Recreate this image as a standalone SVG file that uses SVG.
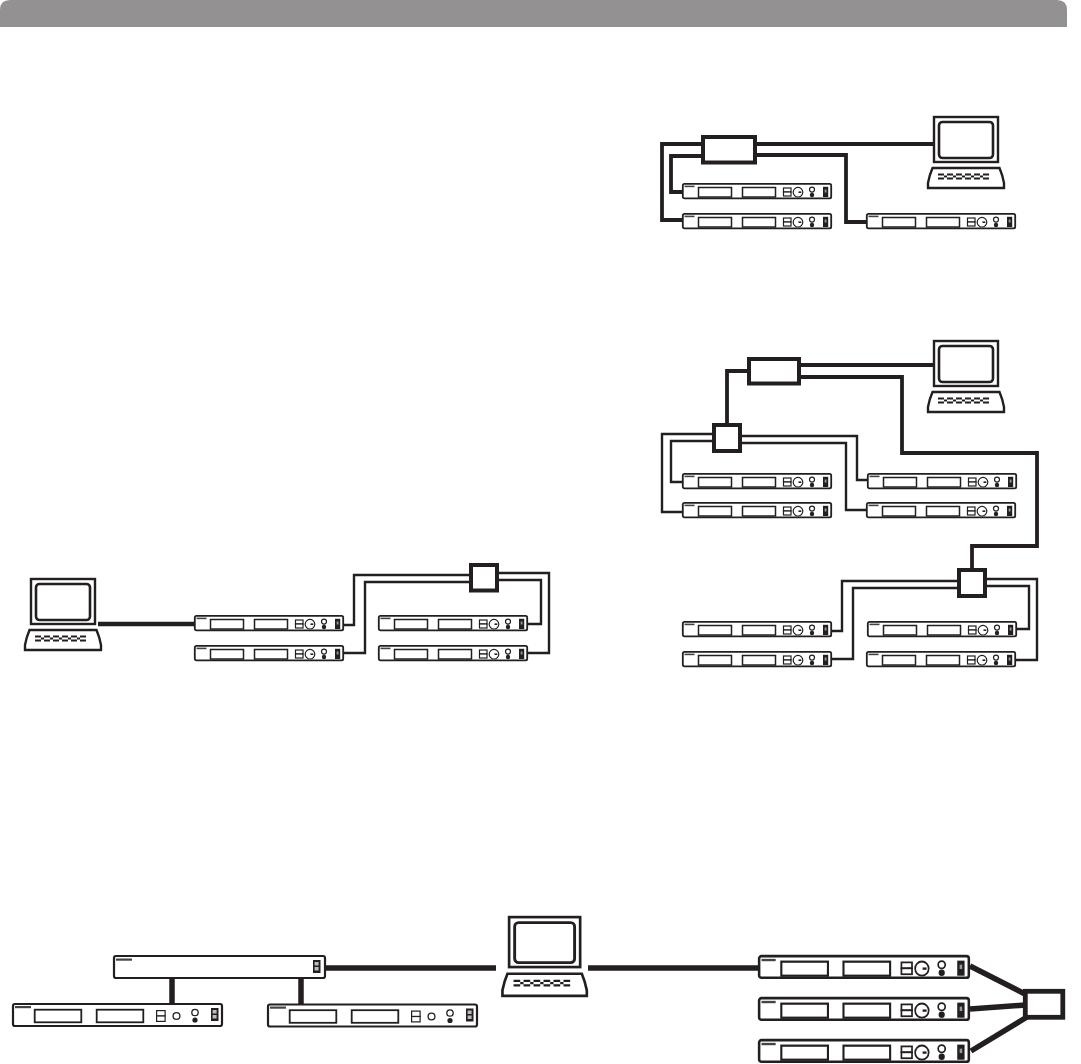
<svg xmlns="http://www.w3.org/2000/svg" width="1081" height="1064" viewBox="0 0 1081 1064">
<style>
.k{fill:none;stroke:#231f20;stroke-linejoin:miter}
.w{fill:#fff;stroke:#231f20}
.d{fill:#231f20}
.thick{fill:none;stroke:#231f20;stroke-width:3.800}
.thin{fill:none;stroke:#231f20;stroke-width:2.400}
.heavy{fill:none;stroke:#231f20;stroke-width:5.500}
.box{fill:#fff;stroke:#231f20;stroke-width:4}
</style>
<defs>
<g id="device">
<rect class="w" x=".8" y=".8" width="148.400" height="14.600" rx="1.600" stroke-width="1.800"/>
<rect x="2.500" y="2.600" width="10" height="1.600" fill="#444"/>
<rect class="w" x="16.500" y="4.500" width="33" height="9.500" stroke-width="1.500"/>
<rect class="w" x="60.500" y="4.500" width="33" height="9.500" stroke-width="1.500"/>
<rect class="w" x="101.500" y="5" width="7.500" height="4" stroke-width="1.200"/>
<rect class="w" x="101.500" y="9" width="7.500" height="4" stroke-width="1.200"/>
<circle class="w" cx="116" cy="9.200" r="4.800" stroke-width="1.200"/>
<path class="k" d="M116.500 9.200h2.800" stroke-width="1.600"/>
<circle class="w" cx="130" cy="6.600" r="2.500" stroke-width="1.200"/>
<circle class="d" cx="130" cy="12" r="2.200"/>
<rect class="d" x="141" y="3.800" width="5.200" height="10.200"/>
<rect x="142.700" y="6.500" width="1.800" height="3" fill="#999"/>
</g>
<g id="device-b">
<rect class="w" x="1" y="1" width="209" height="22" rx="2" stroke-width="2.200"/>
<rect x="3" y="3" width="16" height="2.200" fill="#444"/>
<rect class="w" x="22.700" y="6.700" width="46.600" height="12.600" stroke-width="1.800"/>
<rect class="w" x="84.700" y="6.700" width="46.600" height="12.600" stroke-width="1.800"/>
<rect class="w" x="144.600" y="7.600" width="8.500" height="5.400" stroke-width="1.200"/>
<rect class="w" x="144.600" y="13" width="8.500" height="5.400" stroke-width="1.200"/>
<circle class="w" cx="164.500" cy="13" r="3.400" stroke-width="1.300"/>
<circle class="w" cx="183" cy="9.500" r="3.200" stroke-width="1.300"/>
<circle class="d" cx="183" cy="17" r="2.600"/>
<rect class="d" x="199" y="5" width="7.500" height="13"/>
<rect x="200.600" y="7" width="4" height="3.500" fill="#bbb"/>
<rect x="200.600" y="12" width="4" height="3.500" fill="#bbb"/>
</g>
<g id="computer">
<rect class="w" x="1" y="1" width="64" height="45" stroke-width="2.400"/>
<rect class="w" x="6" y="6" width="54" height="36" rx="3.500" stroke-width="2.600"/>
<path class="w" d="M-5 72V67Q-3.500 59-.5 52H66.500Q69.500 59 71 67V72Z" stroke-width="2.400"/>
<path class="k" d="M5 58.500h6m3 0h6m3 0h6m3 0h6m3 0h6m3 0h6M5 62.500h6m3 0h6m3 0h6m3 0h6m3 0h6m3 0h6" stroke-width="2"/>
<path class="k" d="M11 60.500h3m6 0h3m6 0h3m6 0h3m6 0h3" stroke-width="2"/>
</g>
</defs>
<path id="header" d="M0 27V10Q0 0 10 0H1057Q1067 0 1067 10V27Z" fill="#939191"/>
<g id="connectors">
<path class="thick" d="M757 144H933M757 155H846V222H866M701 144H662V220H682M701 156H671V192H682"/>
<path class="thick" d="M801 365H933M801 377H902V453H1037V546H972V568M747 371H727V423"/>
<path class="thin" d="M712 434H662V512H682M712 441H671V482H682M742 436H857V480H867M742 443H846V510H866"/>
<path class="thin" d="M957 581H842V631H832M957 588H853V659H832M987 579H1037V660H1016M987 586H1029V629H1017"/>
<path class="k" d="M98 624H194" stroke-width="4.500"/>
<path class="thin" d="M469 575H354V625H344M469 582H365V653H344M499 573H549V653H528M499 580H541V624H528"/>
<path class="heavy" d="M172 978V1003M301 978V1004M326 968H496M588 968H758M970 966L1025 994M970 1009L1025 1005M971 1051L1027 1017"/>
</g>
<g id="hub-a"><rect class="box" x="703" y="137" width="52" height="25.500"/></g>
<g id="hub-b"><rect class="box" x="749" y="359" width="50" height="24.500"/></g>
<g id="hub-c"><rect class="box" x="714" y="425" width="26" height="26"/></g>
<g id="hub-d"><rect class="box" x="959" y="570" width="26" height="26"/></g>
<g id="hub-e"><rect class="box" x="471" y="565" width="26" height="25.500"/></g>
<g id="hub-f"><rect class="w" x="1025.300" y="991.300" width="37.500" height="26" stroke-width="4.800"/></g>
<g id="pc-a"><use href="#computer" x="933" y="116"/></g>
<g id="pc-b"><use href="#computer" x="933" y="340"/></g>
<g id="pc-c"><use href="#computer" x="30" y="578"/></g>
<g id="pc-d"><use href="#computer" transform="translate(508 916) scale(1.110)"/></g>
<g id="dev-a1"><use href="#device" x="682" y="183"/></g>
<g id="dev-a2"><use href="#device" x="682" y="213"/></g>
<g id="dev-a3"><use href="#device" x="866" y="213"/></g>
<g id="dev-b1"><use href="#device" x="682" y="473"/></g>
<g id="dev-b2"><use href="#device" x="682" y="502"/></g>
<g id="dev-b3"><use href="#device" x="867" y="473"/></g>
<g id="dev-b4"><use href="#device" x="866" y="502"/></g>
<g id="dev-c1"><use href="#device" x="682" y="621"/></g>
<g id="dev-c2"><use href="#device" x="682" y="651"/></g>
<g id="dev-c3"><use href="#device" x="867" y="621"/></g>
<g id="dev-c4"><use href="#device" x="866" y="651"/></g>
<g id="dev-d1"><use href="#device" x="194" y="615"/></g>
<g id="dev-d2"><use href="#device" x="194" y="645"/></g>
<g id="dev-d3"><use href="#device" x="378" y="615"/></g>
<g id="dev-d4"><use href="#device" x="378" y="645"/></g>
<g id="bar">
<rect class="w" x="114" y="956" width="211" height="22" rx="2" stroke-width="2.200"/>
<rect x="116" y="958.500" width="16" height="2.200" fill="#444"/>
<rect class="d" x="313" y="960" width="7.500" height="13"/>
<rect x="314.600" y="962" width="4" height="3.500" fill="#bbb"/>
<rect x="314.600" y="967" width="4" height="3.500" fill="#bbb"/>
</g>
<g id="dev-e1"><use href="#device-b" x="12" y="1003"/></g>
<g id="dev-e2"><use href="#device-b" x="267" y="1003.500"/></g>
<g id="dev-f1"><use href="#device" transform="translate(758 955) scale(1.413 1.480)"/></g>
<g id="dev-f2"><use href="#device" transform="translate(758 997) scale(1.413 1.480)"/></g>
<g id="dev-f3"><use href="#device" transform="translate(758 1039) scale(1.413 1.480)"/></g>
</svg>
